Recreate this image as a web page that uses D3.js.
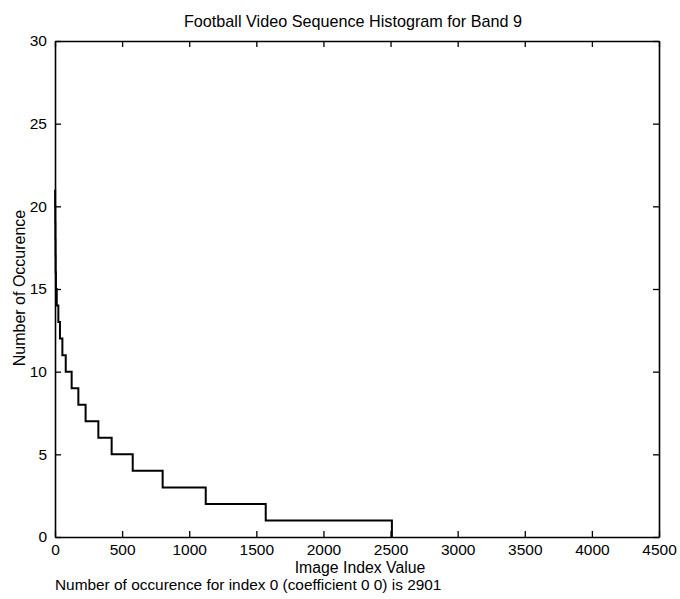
<!DOCTYPE html>
<html>
<head>
<meta charset="utf-8">
<script src="https://cdn.jsdelivr.net/npm/d3@7"></script>
<style>
  html, body { margin: 0; padding: 0; background: #fff; }
  svg { display: block; }
  text { font-family: "Liberation Sans", Arial, Helvetica, sans-serif; fill: #000; }
</style>
</head>
<body>
<svg id="chart" width="680" height="599"></svg>
<script>
// ---- data ----
const binStarts = [0, 1, 2, 3, 4, 5, 7, 13, 25, 37, 55, 80, 124, 174, 228, 323, 422, 579, 802, 1123, 1570, 2510];
const counts    = [21, 20, 19, 18, 17, 16, 15, 14, 13, 12, 11, 10, 9, 8, 7, 6, 5, 4, 3, 2, 1, 0];
const xTicks = [0, 500, 1000, 1500, 2000, 2500, 3000, 3500, 4000, 4500];
const yTicks = [0, 5, 10, 15, 20, 25, 30];
const titleText = "Football Video Sequence Histogram for Band 9";
const xLabelText = "Image Index Value";
const yLabelText = "Number of Occurence";
const noteText = "Number of occurence for index 0 (coefficient 0 0) is 2901";

// ---- layout ----
const L = 55, R = 659, T = 41, B = 537;
const svg = d3.select("#chart");

const x = d3.scaleLinear().domain([0, 4500]).range([L, R]);
const y = d3.scaleLinear().domain([0, 30]).range([B, T]);

const tickLen = 6;
const fs = 15.5;

// axes (ticks pointing inward)
const gB = svg.append("g").attr("transform", `translate(0,${B})`)
  .call(d3.axisBottom(x).tickValues(xTicks).tickSizeInner(-tickLen).tickSizeOuter(0).tickPadding(7).tickFormat(d3.format("d")));
const gT = svg.append("g").attr("transform", `translate(0,${T})`)
  .call(d3.axisTop(x).tickValues(xTicks).tickSizeInner(-tickLen).tickSizeOuter(0).tickFormat(""));
const gL = svg.append("g").attr("transform", `translate(${L},0)`)
  .call(d3.axisLeft(y).tickValues(yTicks).tickSizeInner(-tickLen).tickSizeOuter(0).tickPadding(8).tickFormat(d3.format("d")));
const gR = svg.append("g").attr("transform", `translate(${R},0)`)
  .call(d3.axisRight(y).tickValues(yTicks).tickSizeInner(-tickLen).tickSizeOuter(0).tickFormat(""));

[gB, gT, gL, gR].forEach(g => {
  g.select(".domain").attr("stroke", "#000").attr("stroke-width", 1.6);
  g.selectAll(".tick line").attr("stroke", "#000").attr("stroke-width", 1.3);
  g.selectAll(".tick text").attr("font-size", fs).attr("fill", "#000")
    .style("font-family", '"Liberation Sans", Arial, sans-serif');
});
gB.selectAll(".tick text").attr("dy", "0.71em");

// step line
const pts = binStarts.map((b, i) => [b, counts[i]]);
const line = d3.line().x(d => x(d[0])).y(d => y(d[1])).curve(d3.curveStepAfter);
svg.append("path")
  .attr("d", line(pts))
  .attr("fill", "none")
  .attr("stroke", "#000")
  .attr("stroke-width", 2);

// texts
svg.append("text").attr("x", 353).attr("y", 27).attr("text-anchor", "middle")
  .attr("font-size", 16.2).text(titleText);
svg.append("text").attr("x", 360).attr("y", 573).attr("text-anchor", "middle")
  .attr("font-size", 15.8).text(xLabelText);
svg.append("text").attr("x", 55).attr("y", 590).attr("text-anchor", "start")
  .attr("font-size", 15.4).text(noteText);
svg.append("text").attr("transform", "translate(25,288) rotate(-90)").attr("text-anchor", "middle")
  .attr("font-size", 16).text(yLabelText);
</script>
</body>
</html>
